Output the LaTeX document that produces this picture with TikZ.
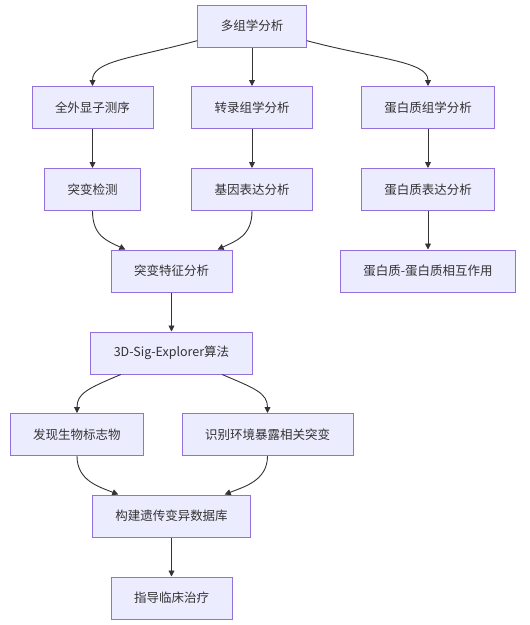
\documentclass[tikz,border=0pt]{standalone}
\usepackage{fontspec}
\newfontfamily\cjk{Noto Sans CJK SC}
\usetikzlibrary{arrows.meta}
\definecolor{boxfill}{HTML}{ECECFF}
\definecolor{boxline}{HTML}{9370DB}
\definecolor{linecol}{HTML}{333333}
\begin{document}
\begin{tikzpicture}[box/.style={draw=boxline,fill=boxfill,line width=1pt,minimum height=42pt,inner xsep=23pt,font=\cjk\fontsize{12.5}{15}\selectfont,text=linecol},>={Triangle[length=6pt,width=6pt]},line width=.9pt,x=1pt,y=1pt]
\useasboundingbox (0,0) rectangle (530,-625);

\node[box] (omics) at (252,-26) {多组学分析};

\node[box] (wes) at (92.5,-107.5) {全外显子测序};
\node[box] (trans) at (252,-107.5) {转录组学分析};
\node[box] (prot) at (428,-107.5) {蛋白质组学分析};

\node[box] (mut) at (92.5,-189.5) {突变检测};
\node[box] (expr) at (252,-189.5) {基因表达分析};
\node[box] (pexp) at (428,-189.5) {蛋白质表达分析};

\node[box] (sig) at (171.5,-271) {突变特征分析};
\node[box] (ppi) at (428,-271) {蛋白质-蛋白质相互作用};

\node[box] (algo) at (171.5,-353) {3D-Sig-Explorer算法};

\node[box] (bio) at (77,-434.5) {发现生物标志物};
\node[box] (env) at (267.5,-434.5) {识别环境暴露相关突变};

\node[box] (db) at (171.5,-516) {构建遗传变异数据库};
\node[box] (clin) at (171.5,-598) {指导临床治疗};

\draw[->,linecol] (omics.195) .. controls +(195:70) and +(90:25) .. (wes.north);
\draw[->,linecol] (omics) -- (trans);
\draw[->,linecol] (omics.-15) .. controls +(-15:70) and +(90:25) .. (prot.north);

\draw[->,linecol] (wes) -- (mut);
\draw[->,linecol] (trans) -- (expr);
\draw[->,linecol] (prot) -- (pexp);

\draw[->,linecol] (mut.south) .. controls +(-90:25) and +(155:20) .. (sig.155);
\draw[->,linecol] (expr.south) .. controls +(-90:25) and +(25:20) .. (sig.25);
\draw[->,linecol] (pexp) -- (ppi);

\draw[->,linecol] (sig) -- (algo);

\draw[->,linecol] (algo.203) .. controls +(203:35) and +(90:20) .. (bio.north);
\draw[->,linecol] (algo.-23) .. controls +(-23:35) and +(90:20) .. (env.north);

\draw[->,linecol] (bio.south) .. controls +(-90:25) and +(158:20) .. (db.158);
\draw[->,linecol] (env.south) .. controls +(-90:25) and +(22:20) .. (db.22);

\draw[->,linecol] (db) -- (clin);
\end{tikzpicture}
\end{document}
